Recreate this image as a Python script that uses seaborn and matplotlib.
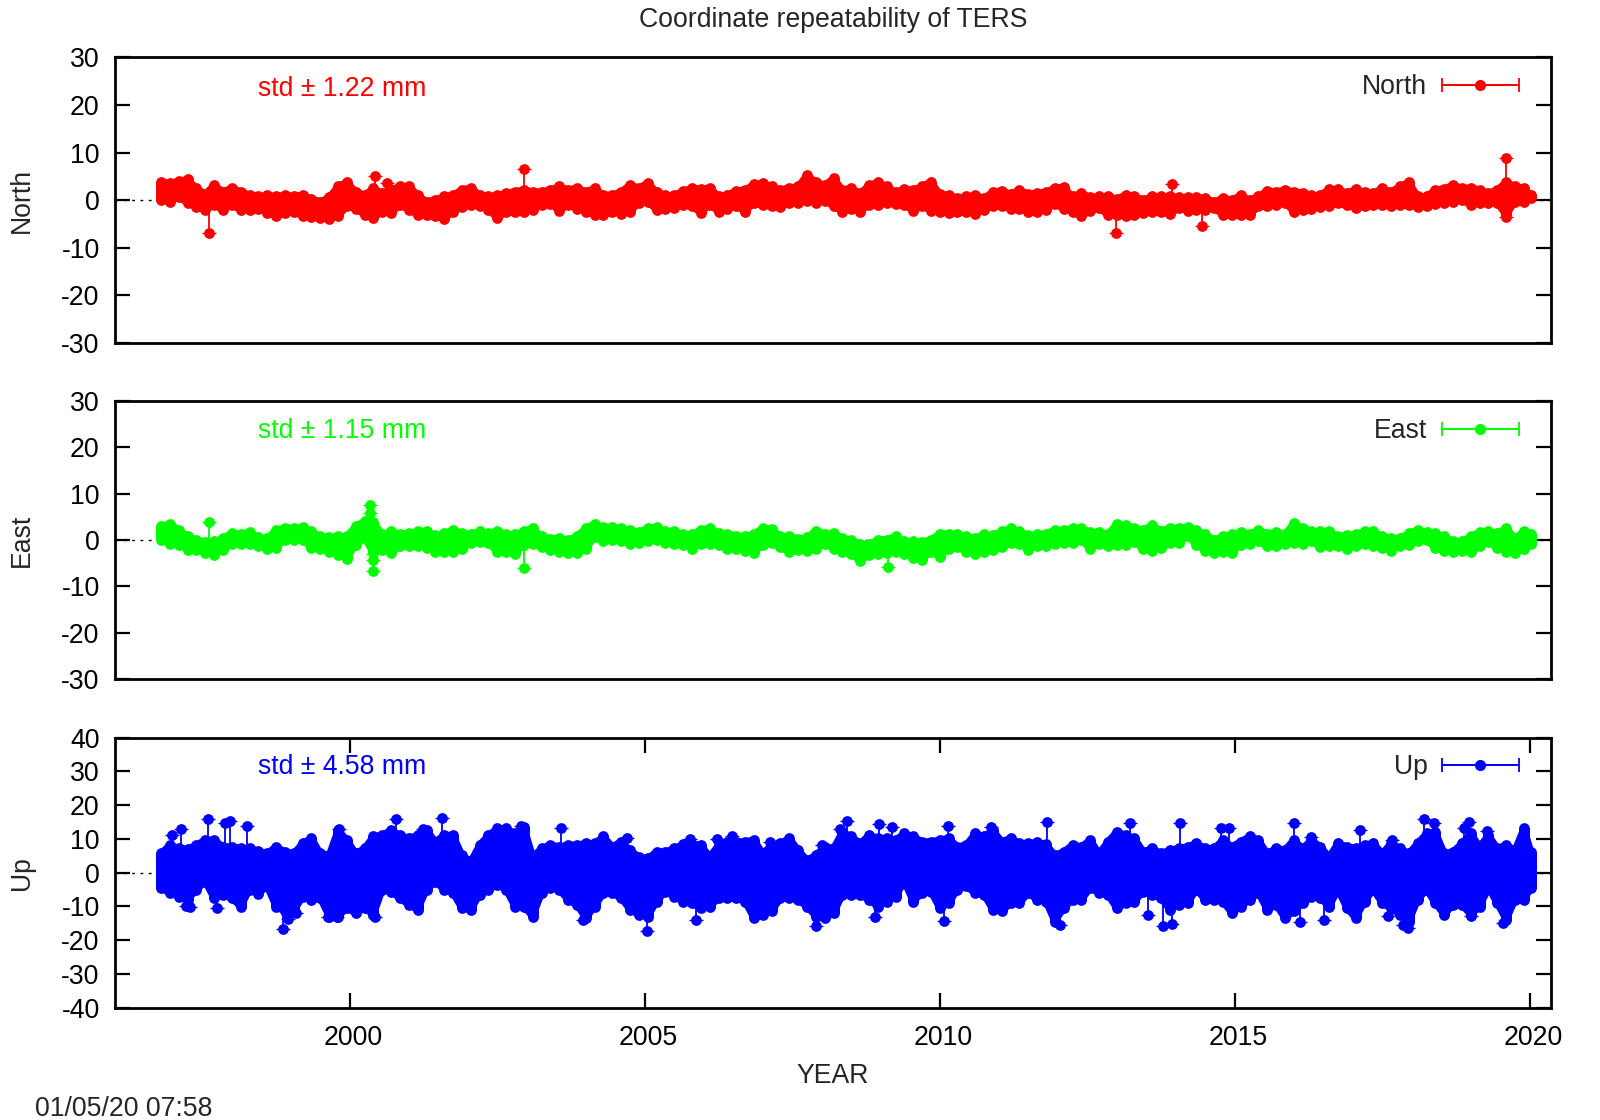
import matplotlib
matplotlib.use('Agg')
import matplotlib.pyplot as plt
from matplotlib.container import ErrorbarContainer
from matplotlib.legend_handler import HandlerErrorbar
from matplotlib.transforms import ScaledTranslation
import pandas as pd
import seaborn as sns

# sampled dates, about one every 0.15 yr - the original has a point per day
sample_year = [
    1996.8, 1996.95, 1997.1, 1997.25, 1997.4, 1997.55, 1997.7, 1997.85, 1998.0, 1998.15,
    1998.3, 1998.45, 1998.6, 1998.75, 1998.9, 1999.05, 1999.2, 1999.35, 1999.5, 1999.65,
    1999.8, 1999.95, 2000.1, 2000.25, 2000.4, 2000.55, 2000.7, 2000.85, 2001.0, 2001.15,
    2001.3, 2001.45, 2001.6, 2001.75, 2001.9, 2002.05, 2002.2, 2002.35, 2002.5, 2002.65,
    2002.8, 2002.95, 2003.1, 2003.25, 2003.4, 2003.55, 2003.7, 2003.85, 2004.0, 2004.15,
    2004.3, 2004.45, 2004.6, 2004.75, 2004.9, 2005.05, 2005.2, 2005.35, 2005.5, 2005.65,
    2005.8, 2005.95, 2006.1, 2006.25, 2006.4, 2006.55, 2006.7, 2006.85, 2007.0, 2007.15,
    2007.3, 2007.45, 2007.6, 2007.75, 2007.9, 2008.05, 2008.2, 2008.35, 2008.5, 2008.65,
    2008.8, 2008.95, 2009.1, 2009.25, 2009.4, 2009.55, 2009.7, 2009.85, 2010.0, 2010.15,
    2010.3, 2010.45, 2010.6, 2010.75, 2010.9, 2011.05, 2011.2, 2011.35, 2011.5, 2011.65,
    2011.8, 2011.95, 2012.1, 2012.25, 2012.4, 2012.55, 2012.7, 2012.85, 2013.0, 2013.15,
    2013.3, 2013.45, 2013.6, 2013.75, 2013.9, 2014.05, 2014.2, 2014.35, 2014.5, 2014.65,
    2014.8, 2014.95, 2015.1, 2015.25, 2015.4, 2015.55, 2015.7, 2015.85, 2016.0, 2016.15,
    2016.3, 2016.45, 2016.6, 2016.75, 2016.9, 2017.05, 2017.2, 2017.35, 2017.5, 2017.65,
    2017.8, 2017.95, 2018.1, 2018.25, 2018.4, 2018.55, 2018.7, 2018.85, 2019.0, 2019.15,
    2019.3, 2019.45, 2019.6, 2019.75, 2019.9, 2020.02,
]

# upper and lower extent of the residuals at each sampled date (mm)
north_hi = [
    3.8, 3.6, 4.0, 4.4, 2.5, 1.3, 3.2, 1.8, 2.6, 1.8, 1.1, 0.8, 1.0, 0.8, 1.1, 0.8, 1.1, 0.3, -0.3, 0.6,
    2.9, 3.8, 1.8, 1.1, 2.5, 1.5, 2.2, 2.9, 3.0, 1.1, -0.3, 0.1, 0.8, 1.1, 2.2, 2.6, 1.1, 0.8, 1.0, 1.5,
    1.8, 2.2, 1.8, 1.8, 2.2, 2.9, 2.2, 2.6, 1.8, 2.5, 1.1, 1.1,
    1.8, 3.2, 2.6, 3.6, 1.8, 1.0, 1.0, 2.0, 2.5, 2.4, 2.6, 0.8, 1.1, 2.0, 2.2, 3.3, 3.6, 2.9, 2.2, 2.6,
    2.9, 5.3, 3.8, 3.2, 4.6, 2.2, 2.5, 1.5, 3.1, 3.8, 2.9, 1.7, 2.3, 2.2, 2.9, 3.9, 1.3, 1.1, 0.4, 0.8,
    1.0, 0.4, 1.8, 2.0, 1.3, 2.2, 1.3, 1.5, 1.7, 2.6, 2.7, 0.8, 1.5, 0.6, 0.8, 0.8, 0.3, 1.1, 0.8,
    0.1, 0.8, 0.8, 0.8, 0.6, 0.6, 0.6, 0.4, -0.3, 0.4, 0.1, 1.0, 0.1, 0.8, 2.0, 1.8, 2.2, 1.8, 1.6, 1.0,
    1.1, 2.3, 2.3, 1.5, 2.3, 1.7, 1.5, 2.5, 1.8, 2.9, 3.8, 0.8, 0.8, 2.2, 2.4, 3.2, 2.5, 2.6, 2.2, 1.5,
    2.2, 3.8, 2.9, 2.6, 1.0,
]
north_lo = [
    0.1, -0.3, 0.6, -0.6, -1.5, -2.0, -1.1, -2.0, -1.1, -2.0, -2.0, -1.8, -2.7, -3.4, -2.7, -2.4, -3.4, -3.6, -3.8, -3.9,
    -3.4, -1.3, -1.8, -3.1, -3.8, -2.4, -2.7, -1.1, -2.0, -3.1, -3.1, -3.4, -3.9, -2.4, -1.5, -1.1, -1.2, -2.0, -3.8, -2.5,
    -2.4, -2.4, -2.0, -1.1, -0.8, -2.2, -1.0, -1.8, -2.5, -3.1, -3.1, -2.4,
    -2.9, -2.4, -0.6, -0.4, -2.0, -1.8, -1.7, -1.1, -1.3, -2.7, -1.0, -2.4, -1.8, -1.3, -2.4, -0.6, -1.1, -1.3, -1.5, -0.6,
    -0.6, -0.1, -0.6, -0.1, -1.3, -2.4, -1.8, -2.4, -1.0, -1.1, -0.6, -0.8, -1.1, -2.2, -1.3, -2.2, -2.5, -2.7, -2.4, -2.5,
    -2.9, -2.0, -1.3, -1.3, -1.8, -1.8, -2.5, -2.5, -2.0, -0.8, -1.8, -2.5, -3.4, -2.2, -1.7, -3.1, -3.1, -3.4, -3.1,
    -2.7, -2.5, -2.5, -2.9, -1.7, -2.2, -2.0, -2.0, -1.7, -3.1, -3.1, -3.2, -3.2, -1.3, -1.3, -1.0, -0.6, -2.4, -2.0, -1.8,
    -1.5, -1.3, -0.6, -1.1, -1.7, -1.3, -1.0, -1.1, -1.3, -1.1, -1.0, -1.5, -1.3, -0.8, -0.6, -0.4, 0.1, -1.1, -0.6, -0.6,
    -0.6, -3.2, -0.3, -0.4, 0.5,
]
east_hi = [
    3.0, 3.5, 2.2, 0.8, 0.1, -0.4, -0.3, 0.4, 1.5, 1.3, 1.7, 0.6, 0.4, 2.2, 2.6, 2.6, 2.8, 1.9, 0.8, 0.6,
    0.8, 0.8, 3.0, 4.1, 3.9, 1.2, 1.9, 1.3, 1.5, 1.9, 1.9, 1.0, 1.5, 2.2, 1.5, 1.3, 1.9, 1.5, 2.0, 1.2,
    1.2, 1.9, 2.6, 0.8, 0.3, 0.4, 0.1, 0.8, 2.6, 3.5, 2.8, 2.8,
    2.5, 2.2, 1.7, 2.6, 2.8, 1.9, 1.9, 1.3, 1.2, 2.2, 2.6, 1.5, 1.4, 0.9, 0.8, 1.3, 2.6, 2.4, 0.8, 0.8,
    0.3, 0.6, 2.0, 1.4, 1.5, 0.4, 0.1, -0.9, -0.9, 0.1, 0.1, 0.8, -0.3, -0.3, -0.4, 0.1, 1.4, 1.4, 1.3, 0.8,
    0.4, 1.3, 1.0, 1.9, 2.5, 1.9, 1.0, 1.2, 1.4, 2.2, 2.1, 2.6, 2.6, 1.7, 1.7, 1.3, 3.5, 3.2, 2.6,
    2.2, 3.2, 2.0, 2.6, 2.6, 2.8, 2.2, 1.2, 0.1, 0.8, 1.2, 1.7, 1.3, 2.1, 1.4, 1.7, 1.2, 3.7, 2.5, 1.9,
    1.9, 1.9, 0.8, 1.0, 1.2, 1.9, 1.9, 0.8, 0.4, 0.4, 1.5, 2.2, 1.7, 1.5, 0.8, -0.3, -0.3, 0.8, 1.7, 1.9,
    1.5, 2.6, 0.4, 1.9, 1.2,
]
east_lo = [
    0.1, -0.9, -1.0, -2.1, -2.1, -2.8, -3.2, -2.1, -0.9, -0.9, -0.9, -1.4, -1.9, -1.7, 0.1, -0.1, 0.1, -1.7, -1.9, -2.5,
    -3.2, -4.1, -1.0, 0.4, -2.8, -2.1, -2.8, -1.4, -1.4, -1.2, -1.7, -2.5, -2.6, -2.5, -1.9, -0.7, -0.5, -0.7, -2.6, -2.5,
    -3.0, -1.0, -0.9, -1.6, -2.1, -2.5, -2.8, -2.8, -1.9, 0.6, -0.3, 0.1,
    -0.3, -0.8, -0.7, -0.3, -0.1, -0.7, -0.9, -1.0, -1.9, -0.9, -0.9, -1.0, -1.9, -1.9, -2.3, -2.8, -1.0, -0.7, -1.6, -2.6,
    -2.2, -2.3, -1.9, -0.8, -1.9, -2.6, -3.0, -4.6, -3.2, -3.0, -2.8, -2.6, -3.0, -3.8, -4.3, -2.5, -3.6, -1.9, -1.6, -2.5,
    -3.0, -2.6, -2.1, -1.6, -0.7, -0.8, -2.1, -1.4, -1.2, -0.9, -0.7, -0.7, -0.1, -1.9, -0.9, -1.2, -1.0, -1.0, -0.4,
    -1.9, -2.3, -1.7, -0.7, -0.7, 0.8, -1.0, -2.3, -2.8, -2.6, -2.8, -1.0, -0.9, -0.3, -1.4, -1.2, -0.9, -0.7, -0.9, -0.3,
    -1.6, -1.2, -1.4, -1.9, -1.2, -0.9, -1.2, -1.7, -2.3, -1.4, -1.0, -0.3, -0.1, -1.7, -2.3, -2.6, -2.3, -2.5, -1.4, -0.5,
    -1.7, -2.5, -2.8, -1.9, -0.9,
]
up_hi = [
    5.7, 8.2, 7.2, 7.0, 8.2, 9.7, 9.7, 7.7, 7.7, 7.2, 7.2, 6.4, 5.7, 7.7, 6.2, 5.7, 8.7, 10.2, 5.7, 5.2,
    12.6, 9.7, 5.7, 7.2, 10.7, 11.1, 12.6, 11.1, 10.2, 11.1, 12.6, 9.2, 11.1, 11.1, 5.2, 3.3, 8.2, 11.1, 13.1, 13.1,
    11.6, 13.6, 4.7, 7.2, 8.2, 7.7, 8.2, 8.2, 8.7, 8.7, 10.7, 7.7,
    9.2, 6.7, 4.7, 4.2, 6.2, 6.2, 7.2, 8.4, 8.4, 8.2, 4.7, 8.2, 9.2, 9.2, 9.2, 9.7, 5.7, 8.2, 8.7, 10.2,
    6.7, 3.7, 5.2, 7.7, 7.2, 12.1, 10.7, 8.7, 11.1, 10.2, 10.2, 9.7, 11.6, 10.7, 9.2, 9.2, 9.7, 10.2, 7.7, 8.2,
    11.6, 10.7, 12.6, 9.2, 10.2, 8.7, 8.7, 9.0, 8.4, 5.2, 6.2, 8.2, 7.7, 9.7, 5.7, 9.2, 12.1, 11.1, 10.2,
    6.2, 7.2, 5.7, 6.7, 7.2, 7.7, 8.7, 7.2, 7.2, 9.7, 7.7, 9.2, 10.7, 9.7, 5.7, 7.2, 6.7, 9.7, 7.2, 9.7,
    7.7, 4.7, 8.7, 7.7, 7.2, 8.2, 8.7, 5.7, 8.7, 7.2, 5.7, 8.7, 11.6, 12.1, 5.7, 6.2, 8.7, 11.6, 7.7, 11.1,
    7.2, 8.2, 6.7, 13.1, 6.2,
]
up_lo = [
    -4.6, -6.1, -7.1, -8.1, -5.1, -2.7, -7.6, -6.6, -7.6, -10.1, -5.1, -6.2, -4.1, -10.1, -11.5, -11.5, -7.1, -8.1, -7.6, -13.0,
    -13.0, -10.6, -12.0, -10.6, -12.5, -5.1, -5.6, -7.6, -9.6, -11.0, -5.1, -2.7, -5.1, -6.1, -10.6, -11.0, -6.6, -5.1, -3.6, -5.1,
    -10.1, -10.1, -13.0, -6.1, -4.6, -5.1, -8.1, -9.6, -13.5, -10.1, -6.1, -6.1,
    -7.6, -11.0, -12.5, -13.0, -8.6, -5.6, -7.1, -8.6, -9.1, -10.6, -10.1, -7.6, -7.6, -7.6, -8.6, -13.5, -12.5, -11.5, -7.6, -7.6,
    -8.1, -10.1, -13.0, -13.5, -12.0, -6.6, -6.6, -6.6, -8.1, -10.1, -8.6, -7.1, -2.7, -8.6, -6.1, -5.6, -10.6, -9.1, -5.1, -4.1,
    -6.1, -6.6, -11.0, -11.5, -9.1, -9.1, -6.1, -8.1, -8.6, -14.5, -10.6, -8.1, -8.1, -4.6, -6.1, -6.6, -10.6, -9.1, -8.6,
    -5.6, -6.6, -7.6, -11.0, -9.6, -9.1, -5.1, -8.1, -8.1, -8.6, -12.0, -10.1, -8.1, -6.1, -11.0, -9.6, -13.5, -11.5, -9.1, -7.1,
    -7.6, -10.1, -5.1, -10.6, -13.5, -8.6, -5.1, -9.1, -10.6, -12.5, -14.5, -8.1, -5.1, -9.1, -12.5, -9.6, -9.6, -12.5, -10.1, -4.6,
    -9.1, -14.0, -8.1, -8.1, -4.6,
]

# isolated points with their error bar reaching back to the main band
north_out_year = [1997.62, 2000.42, 2000.63, 2002.96, 2012.99, 2013.94, 2014.44, 2019.59, 2019.6]
north_out_val = [-6.9, 5.0, 3.7, 6.5, -6.9, 3.4, -5.5, 8.8, -3.6]
north_out_end = [-1.5, 1.0, 1.0, 1.0, -2.0, 0.5, -1.5, 2.0, -0.5]

east_out_year = [1997.62, 2000.35, 2000.35, 2000.39, 2000.39, 2002.96, 2009.12]
east_out_val = [3.8, 7.5, 5.9, -4.3, -6.6, -6.1, -5.9]
east_out_end = [0.0, 3.0, 3.0, -1.0, -3.0, -1.5, -2.5]

up_out_year = [
    1996.99, 1997.14, 1997.6, 1997.88, 1997.97, 1998.26, 1999.82, 2000.79, 2001.24, 2001.57,
    2002.9, 2003.58, 2004.69, 2005.76, 2006.23, 2006.48, 2007.13, 2008.01, 2008.31, 2008.42,
    2008.97, 2009.19, 2010.14, 2010.86, 2011.82, 2013.22, 2014.07, 2014.77, 2014.91, 2016.0,
    2016.3, 2017.12, 2017.66, 2018.2, 2018.37, 2018.89, 2018.97, 2019.27,
    1997.22, 1997.29, 1997.75, 1998.87, 1998.96, 1999.09, 1999.63, 1999.78, 2000.43, 2003.96,
    2005.03, 2005.86, 2007.91, 2008.9, 2010.07, 2012.03, 2013.53, 2013.78, 2013.94, 2016.11,
    2016.52, 2017.6, 2017.85, 2017.94, 2019.0, 2019.54,
]
up_out_val = [
    11.1, 12.9, 15.9, 14.6, 15.4, 13.8, 12.9, 15.9, 13.0, 16.1,
    13.9, 13.2, 10.2, 9.9, 9.9, 10.8, 9.2, 8.2, 12.8, 15.4,
    14.4, 13.4, 13.8, 13.6, 15.1, 14.6, 14.6, 13.3, 13.3, 14.6,
    10.5, 12.6, 9.7, 15.8, 14.6, 13.1, 14.9, 12.4,
    -9.9, -10.3, -10.5, -16.7, -13.8, -12.0, -13.0, -13.2, -13.0, -14.0,
    -17.2, -14.0, -15.7, -13.2, -14.2, -15.5, -12.7, -15.8, -15.2, -14.7,
    -14.0, -12.8, -15.5, -16.5, -12.8, -14.8,
]
up_out_end = [
    6, 6, 8, 7, 7, 6, 8, 8, 8, 9,
    9, 6, 6, 5, 5, 6, 5, 4, 6, 9,
    9, 7, 9, 8, 6, 9, 7, 6, 7, 8,
    6, 7, 5, 8, 7, 7, 7, 7,
    -5, -5, -6, -9, -7, -6, -7, -6, -6, -7,
    -9, -8, -10, -7, -8, -9, -6, -7, -8, -8,
    -8, -6, -9, -9, -6, -7,
]

panel_names = ['North', 'East', 'Up']
panel_colors = ['#ff0000', '#00ff00', '#0000ff']
panel_std = ['std ± 1.22 mm', 'std ± 1.15 mm', 'std ± 4.58 mm']
panel_ylim = [30, 30, 40]
panel_yticks = [
    [-30, -20, -10, 0, 10, 20, 30],
    [-30, -20, -10, 0, 10, 20, 30],
    [-40, -30, -20, -10, 0, 10, 20, 30, 40],
]
x_ticks = [2000, 2005, 2010, 2015, 2020]

# panel box in pixels: top, bottom
panel_box = [(57.3, 343), (401, 679), (737.5, 1007.7)]
LEFT, RIGHT = 115, 1551
W, H = 1600, 1120

sns.set_style('white')
plt.rcParams['font.family'] = ['Liberation Sans', 'DejaVu Sans']
plt.rcParams['axes.unicode_minus'] = False
FS = 19.2

fig = plt.figure(figsize=(W / 100, H / 100), dpi=100)

highs = [north_hi, east_hi, up_hi]
lows = [north_lo, east_lo, up_lo]
outliers = [
    (north_out_year, north_out_val, north_out_end),
    (east_out_year, east_out_val, east_out_end),
    (up_out_year, up_out_val, up_out_end),
]

for i, name in enumerate(panel_names):
    top, bottom = panel_box[i]
    color = panel_colors[i]
    ax = fig.add_axes([LEFT / W, 1 - bottom / H, (RIGHT - LEFT) / W, (bottom - top) / H])

    band = pd.DataFrame({'year': sample_year, 'hi': highs[i], 'lo': lows[i]})
    out = pd.DataFrame({'year': outliers[i][0], 'val': outliers[i][1], 'end': outliers[i][2]})

    ax.axhline(0, color='black', lw=1, ls=(0, (2, 4)), zorder=1)

    # solid band between the extremes, thin edge lines keep the round marks showing as bumps
    ax.vlines(band['year'], band['lo'], band['hi'], color=color, lw=6.8, zorder=2, antialiased=False)
    for edge in ['hi', 'lo']:
        sns.lineplot(data=band, x='year', y=edge, ax=ax, color=color, lw=4.8, estimator=None,
                     sort=False, errorbar=None, solid_capstyle='round', solid_joinstyle='round',
                     zorder=3, legend=False)
        sns.scatterplot(data=band, x='year', y=edge, ax=ax, color=color, s=60, linewidth=0,
                        zorder=3, antialiased=False, legend=False)

    yerr = [(out['val'] - out['end']).clip(lower=0), (out['end'] - out['val']).clip(lower=0)]
    ax.errorbar(out['year'], out['val'], yerr=yerr, fmt='none', ecolor=color, elinewidth=1.3,
                capsize=4.8, capthick=1.0, zorder=3)
    sns.scatterplot(data=out, x='year', y='val', ax=ax, color=color, s=60, linewidth=0,
                    zorder=3, antialiased=False, legend=False)

    # legend entry, gnuplot style: label on the left, error bar sample on the right
    key = ax.errorbar([float('nan')], [float('nan')], xerr=[1], fmt='o-', color=color, ms=7, lw=1.3,
                      capsize=5, capthick=1.3, label=name)
    ax.legend(handles=[key], loc='center right', bbox_to_anchor=(0.978, [0.895, 0.891, 0.891][i]),
              frameon=False, fontsize=FS, markerfirst=False, borderpad=0, borderaxespad=0,
              handlelength=2.92, handletextpad=0.53, numpoints=1,
              handler_map={ErrorbarContainer: HandlerErrorbar(xerr_size=1.46, numpoints=1)})

    ax.set_xlim(1996.02, 2020.36)
    ax.set_ylim(-panel_ylim[i], panel_ylim[i])
    ax.set_yticks(panel_yticks[i])
    ax.tick_params(axis='y', direction='in', left=True, right=True, length=10.5, width=1.6,
                   labelsize=FS, pad=11, colors='black')
    if i == 2:
        ax.set_xticks(x_ticks)
        ax.tick_params(axis='x', direction='in', bottom=True, top=True, length=10.5, width=1.6,
                       labelsize=FS, pad=12.5, colors='black')
        ax.set_xlabel('YEAR', fontsize=FS, labelpad=8.5)
        # gnuplot centres these labels a little right of the tick
        nudge = ScaledTranslation(0.03, 0, fig.dpi_scale_trans)
        for lab in ax.get_xticklabels():
            lab.set_transform(lab.get_transform() + nudge)
    else:
        ax.set_xticks([])
        ax.set_xlabel('')

    for side in ax.spines.values():
        side.set_color('black')
        side.set_linewidth(2.0)

    ax.set_ylabel(name, fontsize=FS)
    ax.yaxis.set_label_coords(-0.0557, 0.5)

    ax.text((258 - LEFT) / (RIGHT - LEFT), [0.889, 0.893, 0.89][i], panel_std[i], color=color,
            fontsize=FS, transform=ax.transAxes, ha='left', va='center')

fig.text(833 / W, 1 - 20 / H, 'Coordinate repeatability of TERS', fontsize=FS, ha='center', va='center')
fig.text(35 / W, 1 - 1109 / H, '01/05/20 07:58', fontsize=FS, ha='left', va='center')

fig.savefig('out.png', dpi=100)
